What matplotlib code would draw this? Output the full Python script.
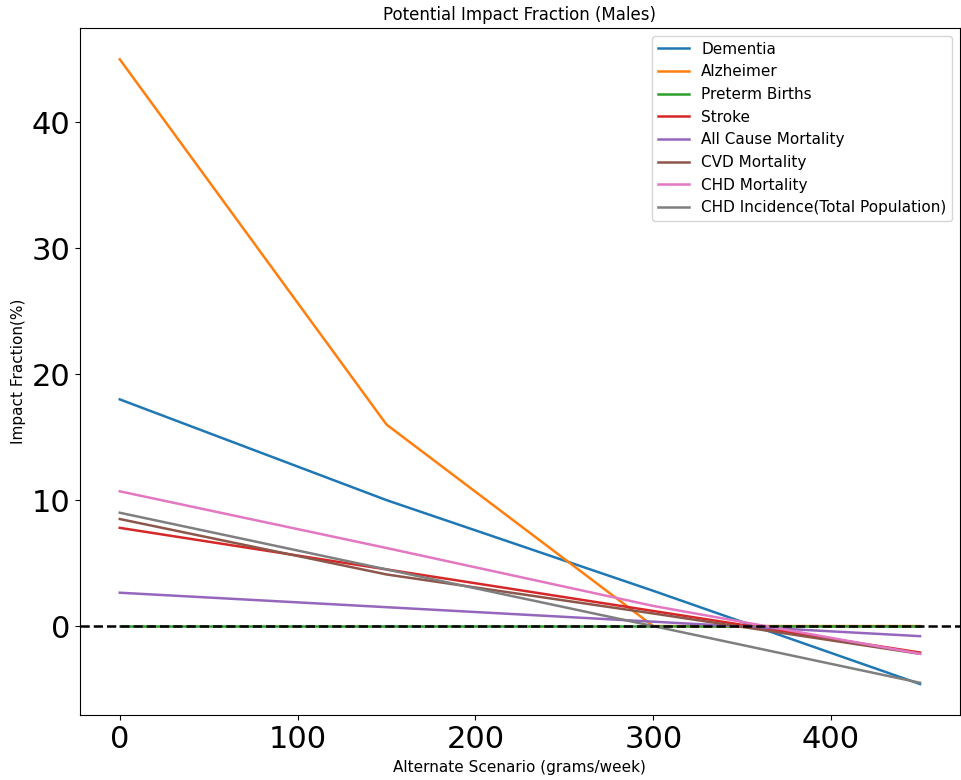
import matplotlib
matplotlib.use("Agg")
import matplotlib.pyplot as plt

x = [0, 150, 300, 450]
dementia = [18.0, 10.0, 2.8, -4.6]
alzheimer = [45.0, 16.0, 0.0, 0.0]
preterm = [0.0, 0.0, 0.0, 0.0]
stroke = [7.8, 4.5, 1.2, -2.1]
all_cause = [2.65, 1.5, 0.35, -0.8]
cvd_mort = [8.5, 4.1, 1.0, -2.2]
chd_mort = [10.7, 6.2, 1.6, -2.2]
chd_incid = [9.0, 4.5, 0.0, -4.5]

labels = ["Dementia", "Alzheimer", "Preterm Births", "Stroke", "All Cause Mortality",
          "CVD Mortality", "CHD Mortality", "CHD Incidence(Total Population)"]
series = [dementia, alzheimer, preterm, stroke, all_cause, cvd_mort, chd_mort, chd_incid]

fig = plt.figure(figsize=(9.61, 7.8), dpi=100)
ax = fig.add_axes([0.083, 0.083, 0.916, 0.881])
for s, lab in zip(series, labels):
    ax.plot(x, s, label=lab, linewidth=1.8)
ax.axhline(0, color="black", linestyle="--", linewidth=1.8)
ax.set_title("Potential Impact Fraction (Males)", fontsize=12)
ax.set_xlabel("Alternate Scenario (grams/week)", fontsize=11)
ax.set_ylabel("Impact Fraction(%)", fontsize=11)
ax.tick_params(axis="both", labelsize=22)
ax.set_xticks([0, 100, 200, 300, 400])
ax.set_yticks([0, 10, 20, 30, 40])
ax.legend(loc="upper right", fontsize=11)
fig.savefig("out.png", dpi=100)
